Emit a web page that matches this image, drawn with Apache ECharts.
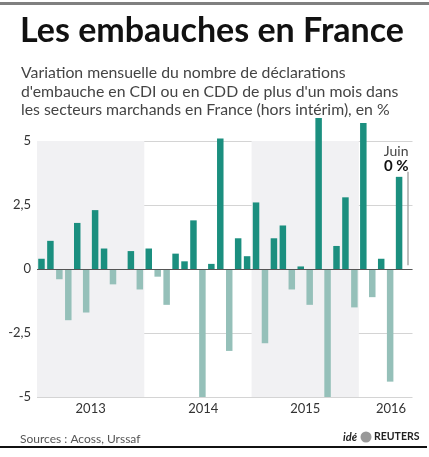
<!DOCTYPE html>
<html><head><meta charset="utf-8">
<script src="https://cdn.jsdelivr.net/npm/echarts@6/dist/echarts.min.js"></script>
<style>html,body{margin:0;padding:0;background:#fff}#c{width:429px;height:457px}</style>
</head><body><div id="c"></div>
<script>
const months = [];
const years = [2013, 2014, 2015, 2016];
for (const y of years) { const n = y === 2016 ? 6 : 12; for (let m = 1; m <= n; m++) months.push(y + '-' + String(m).padStart(2, '0')); }
const values2013 = [0.4, 1.1, -0.4, -2.0, 1.8, -1.7, 2.3, 0.8, -0.6, 0, 0.7, -0.8];
const values2014 = [0.8, -0.3, -1.4, 0.6, 0.3, 1.9, -5.0, 0.2, 5.1, -3.2, 1.2, 0.5];
const values2015 = [2.6, -2.9, 1.2, 1.7, -0.8, 0.1, -1.4, 5.9, -5.0, 0.9, 2.8, -1.5];
const values2016 = [5.7, -1.1, 0.4, -4.4, 3.6, 0];
const values = [].concat(values2013, values2014, values2015, values2016);
const yearLabels = ['2013', '2014', '2015', '2016'];
const yearLabelMonthIndex = [6, 18.6, 30, 39.6];
const shadedYears = [[0, 12], [24, 36]];

const POS = '#1b8f7f', NEG = '#95c0b9';
const chart = echarts.init(document.getElementById('c'));
chart.setOption({
  animation: false,
  textStyle: { fontFamily: 'Lato' },
  title: [
    { text: 'Les embauches en France', left: 15, top: 9, textStyle: { fontFamily: 'Lato', fontWeight: 'bold', fontSize: 34, color: '#111' } },
    { text: "Variation mensuelle du nombre de déclarations\nd'embauche en CDI ou en CDD de plus d'un mois dans\nles secteurs marchands en France (hors intérim), en %",
      left: 16, top: 59, textStyle: { fontFamily: 'Lato', fontWeight: 'normal', fontSize: 15.8, lineHeight: 18.5, color: '#444' } },
    { text: 'Sources : Acoss, Urssaf', left: 15, top: 428, textStyle: { fontFamily: 'Lato', fontWeight: 'normal', fontSize: 12, color: '#555' } }
  ],
  graphic: [
    { type: 'rect', shape: { x: 0, y: 2, width: 429, height: 3 }, style: { fill: '#808080' } },
    { type: 'rect', shape: { x: 0, y: 446, width: 427, height: 2 }, style: { fill: '#111' } },
    { type: 'text', x: 357, y: 437, style: { text: 'idé', fontFamily: 'Lato', fontStyle: 'italic', fontWeight: 'bold', fontSize: 11, fill: '#222', align: 'right', verticalAlign: 'middle' } },
    { type: 'circle', shape: { cx: 366, cy: 437, r: 5.5 }, style: { fill: '#999' } },
    { type: 'text', x: 374, y: 437, style: { text: 'REUTERS', fontFamily: 'Lato', fontWeight: 'bold', fontSize: 10.5, fill: '#222', align: 'left', verticalAlign: 'middle' } }
  ],
  grid: { left: 37, right: 16.5, top: 141, bottom: 60 },
  xAxis: [
    { type: 'category', data: months, boundaryGap: true, axisLine: { show: false }, axisTick: { show: false }, axisLabel: { show: false }, splitLine: { show: false } },
    { type: 'value', min: 0, max: months.length, position: 'bottom', axisLine: { show: false }, axisTick: { show: false }, splitLine: { show: false },
      axisLabel: { customValues: yearLabelMonthIndex, formatter: v => yearLabels[yearLabelMonthIndex.indexOf(v)], color: '#333', fontSize: 13, margin: 5 } }
  ],
  yAxis: { type: 'value', min: -5, max: 5, interval: 2.5, axisLine: { show: false }, axisTick: { show: false },
    axisLabel: { formatter: v => String(v).replace('.', ','), color: '#333', fontSize: 13, margin: 6 },
    splitLine: { lineStyle: { color: '#d4d4d4', width: 1 } } },
  series: [
    { type: 'line', xAxisIndex: 1, data: [], silent: true,
      markArea: { silent: true, itemStyle: { color: '#f1f1f3' }, data: shadedYears.map(r => [{ xAxis: r[0] }, { xAxis: r[1] }]) } },
    { type: 'bar', xAxisIndex: 0, clip: false, data: values.map(v => ({ value: v, itemStyle: { color: v >= 0 ? POS : NEG } })), barWidth: 6.5, z: 3,
      markLine: { silent: true, symbol: 'none', label: { show: false }, lineStyle: { color: '#555', width: 1, type: 'solid' }, data: [{ yAxis: 0 }] } },
    { type: 'line', xAxisIndex: 0, data: [], silent: true,
      markLine: { silent: true, symbol: 'none', lineStyle: { color: '#aaa', width: 1.5, type: 'solid' },
        label: { show: false },
        data: [[{ coord: [months[months.length - 1], 3.8] }, { coord: [months[months.length - 1], 0.15] }]] },
      markPoint: { symbol: 'rect', symbolSize: 1, itemStyle: { color: 'transparent' },
        data: [{ coord: [months[months.length - 1], 4.3], label: { show: true, position: 'insideRight', offset: [5, 0], align: 'right',
          formatter: '{a|Juin}\n{b|0 %}', rich: { a: { fontFamily: 'Lato', fontSize: 14, color: '#444', lineHeight: 15, align: 'right' }, b: { fontFamily: 'Lato', fontWeight: 'bold', fontSize: 15, color: '#111', lineHeight: 15, align: 'right' } } } }] } }
  ]
});
</script></body></html>
